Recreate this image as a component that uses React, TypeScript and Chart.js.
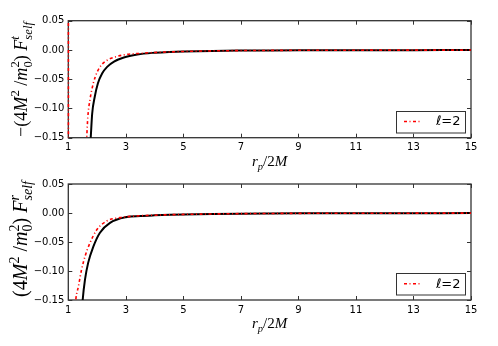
import React, { useEffect, useRef } from "react";
import { Chart, registerables } from "chart.js";

Chart.register(...registerables);

// ---------- data ----------
const X_TICKS = [1, 3, 5, 7, 9, 11, 13, 15];
const Y_TICKS = [0.05, 0.0, -0.05, -0.1, -0.15];
const LEGEND_LABEL = "ℓ=2";

// top panel  (-(4M^2/m0^2) F^t_self)
const topSolidX = [1.74, 1.78, 1.83, 1.92, 2.03, 2.18, 2.35, 2.59, 2.93, 3.4, 3.92, 4.5, 5, 6, 7, 8, 9, 11, 13, 15];
const topSolidY = [-0.183, -0.15, -0.109, -0.08, -0.057, -0.04, -0.029, -0.02, -0.013, -0.0079, -0.005, -0.0035, -0.0026, -0.0016, -0.0011, -0.0008, -0.0006, -0.0004, -0.0003, -0.0002];
const topDashX = [1.003, 1.006, 1.6, 1.64, 1.68, 1.75, 1.87, 2.01, 2.18, 2.41, 2.7, 2.99, 3.4, 3.92, 4.5, 5, 6, 7, 8, 9, 11, 13, 15];
const topDashY = [0.4, -0.4, -0.19, -0.15, -0.114, -0.086, -0.057, -0.037, -0.024, -0.016, -0.011, -0.0079, -0.0062, -0.0045, -0.0034, -0.0026, -0.0016, -0.0011, -0.0008, -0.0006, -0.0004, -0.0003, -0.0002];

// bottom panel ((4M^2/m0^2) F^r_self)
const botSolidX = [1.46, 1.5, 1.58, 1.69, 1.87, 2.1, 2.45, 3.03, 3.5, 4.0, 4.53, 5, 6, 7, 8, 9, 11, 13, 15];
const botSolidY = [-0.18, -0.15, -0.115, -0.086, -0.058, -0.034, -0.017, -0.007, -0.0052, -0.004, -0.003, -0.0024, -0.0016, -0.0011, -0.0008, -0.0006, -0.0004, -0.0003, -0.0002];
const botDashX = [1.22, 1.26, 1.35, 1.46, 1.58, 1.75, 1.99, 2.33, 2.8, 3.5, 4.0, 4.53, 5, 6, 7, 8, 9, 11, 13, 15];
const botDashY = [-0.18, -0.15, -0.127, -0.098, -0.075, -0.052, -0.029, -0.014, -0.008, -0.0048, -0.0038, -0.003, -0.0024, -0.0016, -0.0011, -0.0008, -0.0006, -0.0004, -0.0003, -0.0002];

// ---------- rich text helpers ----------
type Part = { t: string; i?: boolean; k?: "n" | "sup" | "sub"; adv?: boolean };
const SERIF = "'Liberation Serif', 'DejaVu Serif', serif";

function partFont(p: Part, size: number) {
  const s = p.k === "sup" || p.k === "sub" ? size * 0.7 : size;
  return `${p.i ? "italic " : ""}${s}px ${SERIF}`;
}
function partDy(p: Part, size: number) {
  if (p.k === "sup") return -size * 0.42;
  if (p.k === "sub") return size * 0.26;
  return 0;
}
function richWidth(ctx: CanvasRenderingContext2D, parts: Part[], size: number) {
  let x = 0;
  let pending = 0;
  for (const p of parts) {
    ctx.font = partFont(p, size);
    const w = ctx.measureText(p.t).width;
    if (p.adv === false) {
      pending = Math.max(pending, w);
    } else {
      x += Math.max(w, pending);
      pending = 0;
    }
  }
  return x + pending;
}
function drawRich(ctx: CanvasRenderingContext2D, parts: Part[], size: number, x0: number, y0: number) {
  let x = x0;
  let pending = 0;
  for (const p of parts) {
    ctx.font = partFont(p, size);
    const w = ctx.measureText(p.t).width;
    ctx.fillText(p.t, x, y0 + partDy(p, size));
    if (p.adv === false) {
      pending = Math.max(pending, w);
    } else {
      x += Math.max(w, pending);
      pending = 0;
    }
  }
}

const yTitleTop: Part[] = [
  { t: "−(4" },
  { t: "M", i: true },
  { t: "2", k: "sup" },
  { t: " /" },
  { t: "m", i: true },
  { t: "0", k: "sub", adv: false },
  { t: "2", k: "sup" },
  { t: ") " },
  { t: "F", i: true },
  { t: "t", k: "sup", i: true, adv: false },
  { t: "self", k: "sub", i: true },
];
const yTitleBot: Part[] = [
  { t: "(4" },
  { t: "M", i: true },
  { t: "2", k: "sup" },
  { t: " /" },
  { t: "m", i: true },
  { t: "0", k: "sub", adv: false },
  { t: "2", k: "sup" },
  { t: ") " },
  { t: "F", i: true },
  { t: "r", k: "sup", i: true, adv: false },
  { t: "self", k: "sub", i: true },
];
const xTitle: Part[] = [
  { t: "r", i: true },
  { t: "p", k: "sub", i: true },
  { t: "/2" },
  { t: "M", i: true },
];

function fmtY(v: number) {
  if (Math.abs(v) < 1e-9) return "0.00";
  return v.toFixed(2).replace("-", "−");
}

type PanelCfg = {
  solidX: number[];
  solidY: number[];
  dashX: number[];
  dashY: number[];
  yTitle: Part[];
  yTitleLen: number;
  yTitleCenter: number;
  plotTop: number;
  plotBottom: number;
  canvasH: number;
  xTitleBaseline: number;
};

const PLOT_LEFT = 68.3;
const PLOT_RIGHT = 471;
const W = 498;

function makeChart(canvas: HTMLCanvasElement, c: PanelCfg) {
  const decor = {
    id: "decor",
    beforeDatasetsDraw(chart: any) {
      const ctx: CanvasRenderingContext2D = chart.ctx;
      const a = chart.chartArea;
      ctx.save();
      ctx.strokeStyle = "#333";
      ctx.lineWidth = 1.3;
      ctx.strokeRect(a.left, a.top, a.right - a.left, a.bottom - a.top);
      const xs = chart.scales.x;
      const ys = chart.scales.y;
      ctx.lineWidth = 1;
      ctx.beginPath();
      for (const v of X_TICKS) {
        const px = Math.round(xs.getPixelForValue(v)) + 0.5;
        ctx.moveTo(px, a.bottom);
        ctx.lineTo(px, a.bottom - 4);
        ctx.moveTo(px, a.top);
        ctx.lineTo(px, a.top + 4);
      }
      for (const v of Y_TICKS) {
        const py = Math.round(ys.getPixelForValue(v)) + 0.5;
        ctx.moveTo(a.left, py);
        ctx.lineTo(a.left + 4, py);
        ctx.moveTo(a.right, py);
        ctx.lineTo(a.right - 4, py);
      }
      ctx.stroke();
      ctx.restore();
    },
    afterDatasetsDraw(chart: any) {
      const ctx: CanvasRenderingContext2D = chart.ctx;
      const a = chart.chartArea;
      ctx.save();
      ctx.fillStyle = "#000";
      ctx.textBaseline = "alphabetic";
      // y title (rotated)
      const s0 = 16;
      const w0 = richWidth(ctx, c.yTitle, s0);
      const ys = (s0 * c.yTitleLen) / w0;
      const wy = richWidth(ctx, c.yTitle, ys);
      ctx.save();
      ctx.translate(27, c.yTitleCenter);
      ctx.rotate(-Math.PI / 2);
      drawRich(ctx, c.yTitle, ys, -wy / 2, 0);
      ctx.restore();
      // x title
      const xs = 15;
      const wx = richWidth(ctx, xTitle, xs);
      drawRich(ctx, xTitle, xs, (a.left + a.right) / 2 - wx / 2, c.xTitleBaseline);
      // legend
      const ds = chart.data.datasets.filter((d: any) => d.label);
      const bw = 69;
      const bh = 21.5;
      const bx = a.right - 6 - bw;
      const by = a.bottom - 5.5 - bh;
      ctx.fillStyle = "#fff";
      ctx.fillRect(bx, by, bw, bh);
      ctx.strokeStyle = "#333";
      ctx.lineWidth = 1;
      ctx.strokeRect(Math.round(bx) + 0.5, Math.round(by) + 0.5, bw, bh);
      ds.forEach((d: any, i: number) => {
        const cy = by + bh / 2 + i * 18;
        ctx.save();
        ctx.strokeStyle = d.borderColor;
        ctx.lineWidth = d.borderWidth;
        ctx.setLineDash(d.borderDash || []);
        ctx.beginPath();
        ctx.moveTo(bx + 8, cy);
        ctx.lineTo(bx + 24, cy);
        ctx.stroke();
        ctx.restore();
        ctx.fillStyle = "#000";
        ctx.textBaseline = "middle";
        const lab: string = d.label;
        ctx.font = `italic 13px 'DejaVu Sans', sans-serif`;
        const l0 = lab.charAt(0);
        ctx.fillText(l0, bx + 40, cy + 0.5);
        const w1 = ctx.measureText(l0).width;
        ctx.font = `13px 'DejaVu Sans', sans-serif`;
        ctx.fillText(lab.slice(1), bx + 40 + w1, cy + 0.5);
      });
      ctx.restore();
    },
  };

  return new Chart(canvas, {
    type: "line",
    data: {
      datasets: [
        {
          label: "",
          data: c.solidX.map((x, i) => ({ x, y: c.solidY[i] })),
          borderColor: "#000",
          borderWidth: 2,
          pointRadius: 0,
          cubicInterpolationMode: "monotone",
          clip: { left: 0, top: 0, right: 0, bottom: 0 },
          order: 2,
        } as any,
        {
          label: LEGEND_LABEL,
          data: c.dashX.map((x, i) => ({ x, y: c.dashY[i] })),
          borderColor: "#ff0000",
          borderWidth: 1.6,
          borderDash: [3, 2.5, 1, 2.5],
          pointRadius: 0,
          cubicInterpolationMode: "monotone",
          clip: { left: 2, top: 0, right: 0, bottom: 0 },
          order: 1,
        } as any,
      ],
    },
    options: {
      animation: false,
      responsive: false,
      devicePixelRatio: 1,
      events: [],
      layout: { padding: { top: c.plotTop, right: W - PLOT_RIGHT, left: 0, bottom: 0 } },
      plugins: { legend: { display: false }, tooltip: { enabled: false }, title: { display: false } },
      scales: {
        x: {
          type: "linear",
          min: 1,
          max: 15,
          afterBuildTicks: (s: any) => {
            s.ticks = X_TICKS.map((v) => ({ value: v }));
          },
          afterFit: (s: any) => {
            s.height = c.canvasH - c.plotBottom;
          },
          grid: { display: false, drawTicks: false },
          border: { display: false },
          ticks: {
            autoSkip: false,
            maxRotation: 0,
            padding: 4,
            color: "#000",
            font: { family: "'DejaVu Sans', sans-serif", size: 10 },
            callback: (v: any) => String(v),
          },
        },
        y: {
          type: "linear",
          min: -0.15,
          max: 0.05,
          afterBuildTicks: (s: any) => {
            s.ticks = Y_TICKS.map((v) => ({ value: v }));
          },
          afterFit: (s: any) => {
            s.width = PLOT_LEFT;
          },
          grid: { display: false, drawTicks: false },
          border: { display: false },
          ticks: {
            padding: 4,
            color: "#000",
            font: { family: "'DejaVu Sans', sans-serif", size: 10 },
            callback: (v: any) => fmtY(Number(v)),
          },
        },
      },
    },
    plugins: [decor],
  } as any);
}

export default function App() {
  const topRef = useRef<HTMLCanvasElement>(null);
  const botRef = useRef<HTMLCanvasElement>(null);

  useEffect(() => {
    const c1 = makeChart(topRef.current!, {
      solidX: topSolidX,
      solidY: topSolidY,
      dashX: topDashX,
      dashY: topDashY,
      yTitle: yTitleTop,
      yTitleLen: 115,
      yTitleCenter: 79.5,
      plotTop: 20.7,
      plotBottom: 137.7,
      canvasH: 173,
      xTitleBaseline: 166,
    });
    const c2 = makeChart(botRef.current!, {
      solidX: botSolidX,
      solidY: botSolidY,
      dashX: botDashX,
      dashY: botDashY,
      yTitle: yTitleBot,
      yTitleLen: 116,
      yTitleCenter: 66,
      plotTop: 11,
      plotBottom: 127,
      canvasH: 173,
      xTitleBaseline: 155,
    });
    return () => {
      c1.destroy();
      c2.destroy();
    };
  }, []);

  return (
    <div style={{ position: "absolute", left: 0, top: 0, width: W, height: 346, background: "#fff" }}>
      <canvas ref={topRef} width={W} height={173} style={{ display: "block", width: W, height: 173 }} />
      <canvas ref={botRef} width={W} height={173} style={{ display: "block", width: W, height: 173 }} />
    </div>
  );
}
